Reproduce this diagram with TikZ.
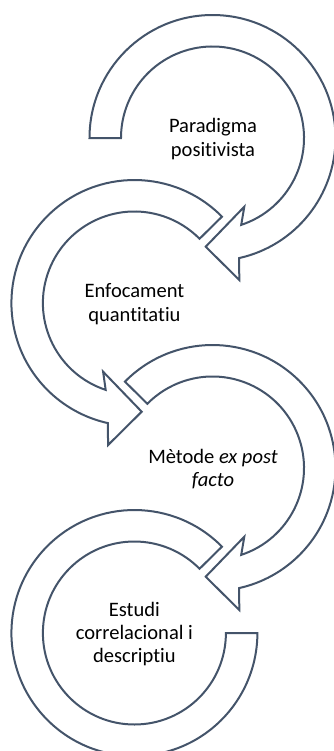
\documentclass[tikz,border=0pt]{standalone}
\usepackage{fontspec}
\setmainfont{Carlito}[Ligatures={NoCommon,NoRare,NoContextual}]
\definecolor{ringline}{HTML}{44546A}
\begin{document}
\begin{tikzpicture}[x=0.75pt, y=-0.75pt,
  ring/.style={draw=ringline, line width=1.5pt, fill=white, line join=miter},
  caption/.style={align=center, text=black, font=\fontsize{15.4}{17.6}\selectfont}]
\useasboundingbox (0,0) rectangle (333,751);

% first ring: flat start on the left, clockwise to the arrowhead
\begin{scope}[shift={(212.5,138)}]
  \draw[ring] (180:123) arc[start angle=180, end angle=437.5, radius=123]
    -- (26.8,142) -- (-6.8,108.7) -- (31.8,68.7)
    -- (431.7:91.5) arc[start angle=431.7, end angle=180, radius=91.5] -- cycle;
\end{scope}

% second ring: mirrored, counter-clockwise
\begin{scope}[shift={(134.4,303)}, xscale=-1]
  \draw[ring] (224.6:123) arc[start angle=224.6, end angle=437.5, radius=123]
    -- (26.3,142) -- (-7.3,108.7) -- (31.3,68.7)
    -- (431.7:91.5) arc[start angle=431.7, end angle=224.6, radius=91.5] -- cycle;
\end{scope}

% third ring: clockwise
\begin{scope}[shift={(212.5,468)}]
  \draw[ring] (224.6:123) arc[start angle=224.6, end angle=437.5, radius=123]
    -- (26.8,142) -- (-6.8,108.7) -- (31.8,68.7)
    -- (431.7:91.5) arc[start angle=431.7, end angle=224.6, radius=91.5] -- cycle;
\end{scope}

% last ring: no arrowhead, flat end on the right
\begin{scope}[shift={(134.4,633)}, xscale=-1]
  \draw[ring] (224.6:123) arc[start angle=224.6, end angle=540, radius=123]
    -- (540:91.5) arc[start angle=540, end angle=224.6, radius=91.5] -- cycle;
\end{scope}

\node[caption] (paradigma) at (213,139) {Paradigma\\positivista};
\node[caption] (enfocament) at (134.4,304) {Enfocament\\quantitatiu};
\node[caption] (metode) at (213,469) {Mètode \textit{ex post}\\\textit{facto}};
\node[caption] (estudi) at (134.4,634) {Estudi\\correlacional i\\descriptiu};
\end{tikzpicture}
\end{document}
